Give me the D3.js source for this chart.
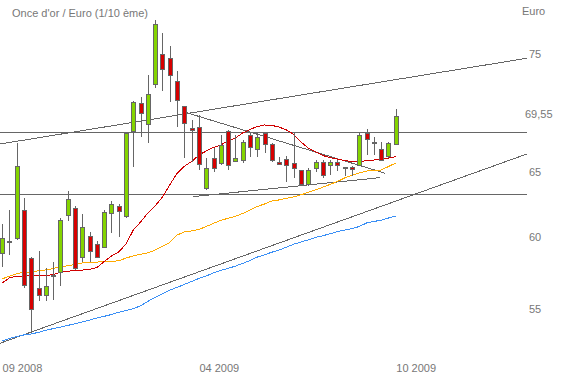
<!DOCTYPE html>
<html>
<head>
<meta charset="utf-8">
<script src="https://cdn.jsdelivr.net/npm/d3@7"></script>
<style>
  body { margin: 0; background: #fff; }
  text { font-family: "Liberation Sans", Arial, sans-serif; fill: #777; }
</style>
</head>
<body>
<div id="chart"></div>
<script>
// DATA (weekly candles, week ending friday, gold ounce / euro, 1/10)
const weeks = d3.timeFriday.range(new Date(2008, 8, 26), new Date(2009, 9, 10))

const open = [58.85,59.69,59.93,61.96,58.49,56.39,55.88,57.26,57.50,61.65,62.11,58.56,60.05,59.45,59.28,61.78,62.31,61.58,68.25,70.64,68.89,72.30,75.00,74.64,72.58,70.37,68.53,68.58,63.65,66.07,65.67,68.25,65.85,65.93,67.89,66.80,68.11,67.21,65.75,65.99,65.67,65.07,63.96,65.27,65.72,65.53,65.75,65.32,65.35,65.53,68.06,67.34,66.82,66.20,67.15]
const high = [60.98,62.03,67.34,62.93,58.61,59.01,57.82,58.23,61.43,63.49,62.34,61.73,60.39,59.74,62.03,62.75,62.49,68.22,70.88,71.21,73.14,78.21,76.95,75.77,73.49,70.42,69.23,69.66,66.11,66.93,67.97,68.39,67.97,67.56,68.11,68.14,68.25,67.34,66.20,66.25,68.11,65.13,65.27,65.93,65.93,65.93,65.93,65.35,65.45,68.11,68.45,67.83,67.42,67.42,70.14]
const low = [57.89,58.73,59.81,56.39,53.38,55.54,55.52,55.59,56.57,61.23,57.66,58.25,58.23,58.51,59.23,60.30,60.01,61.43,65.40,67.83,67.34,72.00,71.72,70.74,68.64,66.07,65.79,65.13,63.57,65.00,65.53,65.13,65.79,65.67,66.15,66.15,66.47,65.75,65.53,64.22,64.48,63.88,63.88,65.00,64.48,64.74,65.07,64.66,64.66,65.45,66.33,66.33,65.93,66.07,67.15]
const close = [59.93,59.69,65.45,56.57,54.96,55.88,56.53,57.26,61.28,62.85,57.78,60.74,58.96,58.56,61.86,62.47,61.93,68.11,70.71,69.78,71.43,77.73,73.58,73.05,70.85,68.97,68.31,65.59,65.27,65.27,67.09,65.53,66.07,67.38,66.93,67.78,67.21,65.87,65.59,65.47,65.27,63.96,65.07,65.72,64.66,65.72,65.53,65.32,65.19,67.91,67.62,67.34,65.93,67.29,69.55]

// moving averages
const maShort = [56.75,57.10,57.22,57.24,57.26,57.26,57.29,57.32,57.50,57.58,57.60,57.65,57.71,57.82,58.26,58.65,58.94,59.52,60.54,61.13,61.81,62.34,63.03,63.96,64.87,65.43,65.81,66.33,66.66,66.95,67.15,67.48,67.73,68.14,68.43,68.68,68.81,68.77,68.64,68.39,68.02,67.40,66.90,66.58,66.29,66.13,66.01,65.89,65.81,65.79,65.89,65.93,66.05,66.09,66.20]
const maMid = [57.03,57.23,57.40,57.49,57.52,57.60,57.66,57.75,57.90,57.95,58.05,58.16,58.21,58.22,58.24,58.26,58.31,58.50,58.66,58.78,58.87,59.08,59.34,59.63,60.17,60.39,60.47,60.58,60.80,61.03,61.26,61.41,61.56,61.77,62.03,62.30,62.49,62.72,62.80,62.92,63.03,63.19,63.38,63.57,63.78,64.00,64.23,64.51,64.70,64.90,65.05,65.09,65.13,65.41,65.69]
const maLong = [52.88,53.04,53.17,53.27,53.33,53.44,53.57,53.68,53.78,53.89,54.00,54.12,54.24,54.38,54.49,54.61,54.76,54.87,55.00,55.20,55.50,55.76,56.01,56.26,56.45,56.65,56.86,57.07,57.24,57.45,57.63,57.77,57.93,58.12,58.33,58.57,58.74,58.92,59.08,59.28,59.50,59.66,59.82,59.99,60.12,60.26,60.43,60.54,60.64,60.80,61.06,61.17,61.27,61.43,61.58]

// trend lines [date, value]
const trendLines = [
  [[new Date(2008, 8, 24), 67.23], [new Date(2010, 1, 12), 74.64]],
  [[new Date(2008, 8, 24), 52.73], [new Date(2010, 1, 12), 66.42]],
  [[new Date(2008, 8, 24), 68.20], [new Date(2010, 1, 12), 68.20]],
  [[new Date(2008, 8, 24), 63.23], [new Date(2010, 1, 12), 63.23]],
  [[new Date(2009, 2, 22), 69.85], [new Date(2009, 8, 29), 64.87]],
  [[new Date(2009, 2, 28), 63.05], [new Date(2009, 8, 24), 64.53]]
]

const yTicks = [55, 60, 65, 75]
const xTicks = [weeks[0], weeks[27], weeks[54]]

const width = 564
const height = 377

const data = weeks.map((d, i) => ({date: d, o: open[i], h: high[i], l: low[i], c: close[i]}))

// SCALE
const xScale = d3.scaleTime()
    .domain([new Date(2008, 8, 24), new Date(2010, 1, 12)])
    .range([0, 527])

const yScale = d3.scaleLog()
    .domain([55, 75])
    .range([308.7, 54.3])

const svg = d3.select("#chart")
    .append("svg")
    .attr("width", width)
    .attr("height", height)

// TITLES
svg.append("text")
    .attr("x", 12)
    .attr("y", 17)
    .attr("font-size", 11)
    .text("Once d'or / Euro (1/10 ème)")

svg.append("text")
    .attr("x", 522)
    .attr("y", 15)
    .attr("font-size", 11)
    .text("Euro")

// TREND LINES
const line = d3.line()
    .x(d => xScale(d[0]))
    .y(d => yScale(d[1]))

svg.append("g")
    .selectAll("path")
    .data(trendLines)
    .join("path")
    .attr("d", line)
    .attr("fill", "none")
    .attr("stroke", "#666")
    .attr("stroke-width", 1)
    .style("shape-rendering", "crispEdges")

// MOVING AVERAGES
const maLine = arr => d3.line()
    .x((d, i) => xScale(weeks[i]))
    .y(d => yScale(d))(arr)

const mas = [[maLong, "#3a8ff5"], [maMid, "#ffaa00"], [maShort, "#d00000"]]
svg.append("g")
    .selectAll("path")
    .data(mas)
    .join("path")
    .attr("d", d => maLine(d[0]))
    .attr("fill", "none")
    .attr("stroke", d => d[1])
    .attr("stroke-width", 1)
    .style("shape-rendering", "crispEdges")

// CANDLES
const candles = svg.append("g")
    .selectAll("g")
    .data(data)
    .join("g")

candles.append("line")
    .attr("x1", d => Math.round(xScale(d.date)) + 0.5)
    .attr("x2", d => Math.round(xScale(d.date)) + 0.5)
    .attr("y1", d => yScale(d.h))
    .attr("y2", d => yScale(d.l))
    .attr("stroke", "#666")
    .style("shape-rendering", "crispEdges")

candles.append("rect")
    .attr("x", d => Math.round(xScale(d.date)) - 1.5)
    .attr("width", 4)
    .attr("y", d => yScale(Math.max(d.o, d.c)))
    .attr("height", d => Math.max(1, yScale(Math.min(d.o, d.c)) - yScale(Math.max(d.o, d.c))))
    .attr("fill", d => d.c > d.o ? "#84d400" : (d.c < d.o ? "#d70000" : "#666"))
    .attr("stroke", "#666")
    .attr("stroke-width", 1)
    .style("shape-rendering", "crispEdges")

// AXES
const yAxis = d3.axisRight(yScale)
    .tickValues(yTicks)
    .tickFormat(d3.format("d"))
    .tickSize(0)
    .tickPadding(0)

svg.append("g")
    .attr("transform", "translate(529,0)")
    .call(yAxis)
    .call(g => g.select(".domain").remove())
    .selectAll("text")
    .attr("font-size", 11)
    .attr("font-family", null)
    .attr("fill", null)

// last close label
svg.append("text")
    .attr("x", 525)
    .attr("y", yScale(close[close.length - 1]) - 2)
    .attr("dy", "0.32em")
    .attr("font-size", 11)
    .text(close[close.length - 1].toFixed(2).replace(".", ","))

const xAxis = d3.axisBottom(xScale)
    .tickValues(xTicks)
    .tickFormat(d3.timeFormat("%m %Y"))
    .tickSize(0)
    .tickPadding(0)

svg.append("g")
    .attr("transform", "translate(0,364)")
    .call(xAxis)
    .call(g => g.select(".domain").remove())
    .selectAll("text")
    .attr("text-anchor", "start")
    .attr("font-size", 11)
    .attr("font-family", null)
    .attr("fill", null)
</script>
</body>
</html>
